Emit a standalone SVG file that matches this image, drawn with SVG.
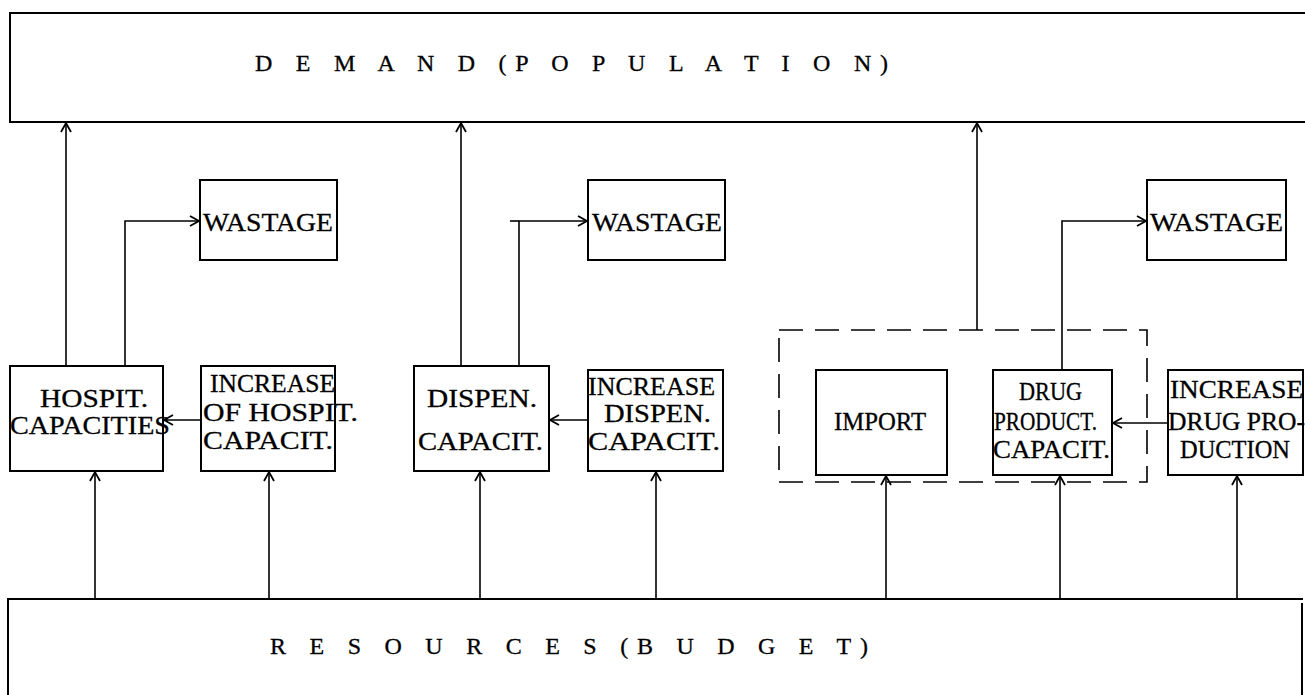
<svg xmlns="http://www.w3.org/2000/svg" width="1305" height="695" viewBox="0 0 1305 695">
<style>
.box{fill:none;stroke:#000;stroke-width:2}
.ln{fill:none;stroke:#000;stroke-width:1.6}
.dash{fill:none;stroke:#000;stroke-width:1.6;stroke-dasharray:24 12}
.big{font-family:"Liberation Serif",serif;font-size:24px;fill:#000;stroke:#000;stroke-width:0.3}
.lbl{font-family:"Liberation Serif",serif;font-size:25px;fill:#000;stroke:#000;stroke-width:0.3}
</style>
<defs>
<marker id="ah" markerWidth="12" markerHeight="12" refX="10" refY="6" orient="auto" markerUnits="userSpaceOnUse">
<path d="M1,1 L10,6 L1,11" fill="none" stroke="#000" stroke-width="1.8"/>
</marker>
</defs>
<rect width="1305" height="695" fill="#fff"/>
<g id="demand">
<path class="box" d="M1305,13 H10 V122 H1305"/>
<text class="big" x="255" y="71" textLength="633" lengthAdjust="spacing">D E M A N D (P O P U L A T I O N)</text>
</g>
<g id="resources">
<path class="box" d="M8,695 V599 H1303 M1302,603 V695"/>
<text class="big" x="270" y="654" textLength="598" lengthAdjust="spacing">R E S O U R C E S (B U D G E T)</text>
</g>
<g id="wastage1">
<rect class="box" x="200" y="180" width="137" height="80"/>
<text class="lbl" x="203" y="231" textLength="130" lengthAdjust="spacingAndGlyphs">WASTAGE</text>
</g>
<g id="wastage2">
<rect class="box" x="588" y="180" width="137" height="80"/>
<text class="lbl" x="592" y="231" textLength="130" lengthAdjust="spacingAndGlyphs">WASTAGE</text>
</g>
<g id="wastage3">
<rect class="box" x="1147" y="180" width="139" height="80"/>
<text class="lbl" x="1150" y="231" textLength="133" lengthAdjust="spacingAndGlyphs">WASTAGE</text>
</g>
<g id="hospit">
<rect class="box" x="10" y="366" width="153" height="105"/>
<text class="lbl" x="40" y="407" textLength="108" lengthAdjust="spacingAndGlyphs">HOSPIT.</text>
<text class="lbl" x="10" y="434" textLength="160" lengthAdjust="spacingAndGlyphs">CAPACITIES</text>
</g>
<g id="inc-hospit">
<rect class="box" x="201" y="366" width="134" height="105"/>
<text class="lbl" x="210" y="392" textLength="125" lengthAdjust="spacingAndGlyphs">INCREASE</text>
<text class="lbl" x="203" y="421" textLength="155" lengthAdjust="spacingAndGlyphs">OF HOSPIT.</text>
<text class="lbl" x="203" y="449" textLength="130" lengthAdjust="spacingAndGlyphs">CAPACIT.</text>
</g>
<g id="dispen">
<rect class="box" x="414" y="366" width="135" height="105"/>
<text class="lbl" x="427" y="407" textLength="110" lengthAdjust="spacingAndGlyphs">DISPEN.</text>
<text class="lbl" x="418" y="450" textLength="125" lengthAdjust="spacingAndGlyphs">CAPACIT.</text>
</g>
<g id="inc-dispen">
<rect class="box" x="588" y="370" width="135" height="101"/>
<text class="lbl" x="588" y="395" textLength="127" lengthAdjust="spacingAndGlyphs">INCREASE</text>
<text class="lbl" x="604" y="422" textLength="107" lengthAdjust="spacingAndGlyphs">DISPEN.</text>
<text class="lbl" x="588" y="450" textLength="132" lengthAdjust="spacingAndGlyphs">CAPACIT.</text>
</g>
<g id="drug-group">
<rect class="dash" x="779" y="330" width="368" height="152"/>
</g>
<g id="import">
<rect class="box" x="816" y="370" width="131" height="105"/>
<text class="lbl" x="834" y="430" textLength="92" lengthAdjust="spacingAndGlyphs">IMPORT</text>
</g>
<g id="drug-product">
<rect class="box" x="993" y="370" width="119" height="105"/>
<text class="lbl" x="1019" y="400" textLength="63" lengthAdjust="spacingAndGlyphs">DRUG</text>
<text class="lbl" x="994" y="430" textLength="103" lengthAdjust="spacingAndGlyphs">PRODUCT.</text>
<text class="lbl" x="993" y="458" textLength="117" lengthAdjust="spacingAndGlyphs">CAPACIT.</text>
</g>
<g id="inc-drug">
<rect class="box" x="1168" y="370" width="135" height="105"/>
<text class="lbl" x="1170" y="398" textLength="133" lengthAdjust="spacingAndGlyphs">INCREASE</text>
<text class="lbl" x="1168" y="430" textLength="137" lengthAdjust="spacingAndGlyphs">DRUG PRO-</text>
<text class="lbl" x="1180" y="458" textLength="110" lengthAdjust="spacingAndGlyphs">DUCTION</text>
</g>
<g id="connectors">
<path class="ln" marker-end="url(#ah)" d="M66,366 V123"/>
<path class="ln" marker-end="url(#ah)" d="M125,366 V221 H199"/>
<path class="ln" marker-end="url(#ah)" d="M461,366 V123"/>
<path class="ln" d="M510,221 H519"/>
<path class="ln" marker-end="url(#ah)" d="M519,366 V221 H587"/>
<path class="ln" marker-end="url(#ah)" d="M977,330 V123"/>
<path class="ln" marker-end="url(#ah)" d="M1062,370 V221 H1146"/>
<path class="ln" marker-end="url(#ah)" d="M201,420 H164"/>
<path class="ln" marker-end="url(#ah)" d="M588,420 H550"/>
<path class="ln" marker-end="url(#ah)" d="M1168,423 H1113"/>
<path class="ln" marker-end="url(#ah)" d="M95,599 V472"/>
<path class="ln" marker-end="url(#ah)" d="M269,599 V472"/>
<path class="ln" marker-end="url(#ah)" d="M480,599 V472"/>
<path class="ln" marker-end="url(#ah)" d="M656,599 V472"/>
<path class="ln" marker-end="url(#ah)" d="M886,599 V476"/>
<path class="ln" marker-end="url(#ah)" d="M1060,599 V476"/>
<path class="ln" marker-end="url(#ah)" d="M1237,599 V476"/>
</g>
</svg>
